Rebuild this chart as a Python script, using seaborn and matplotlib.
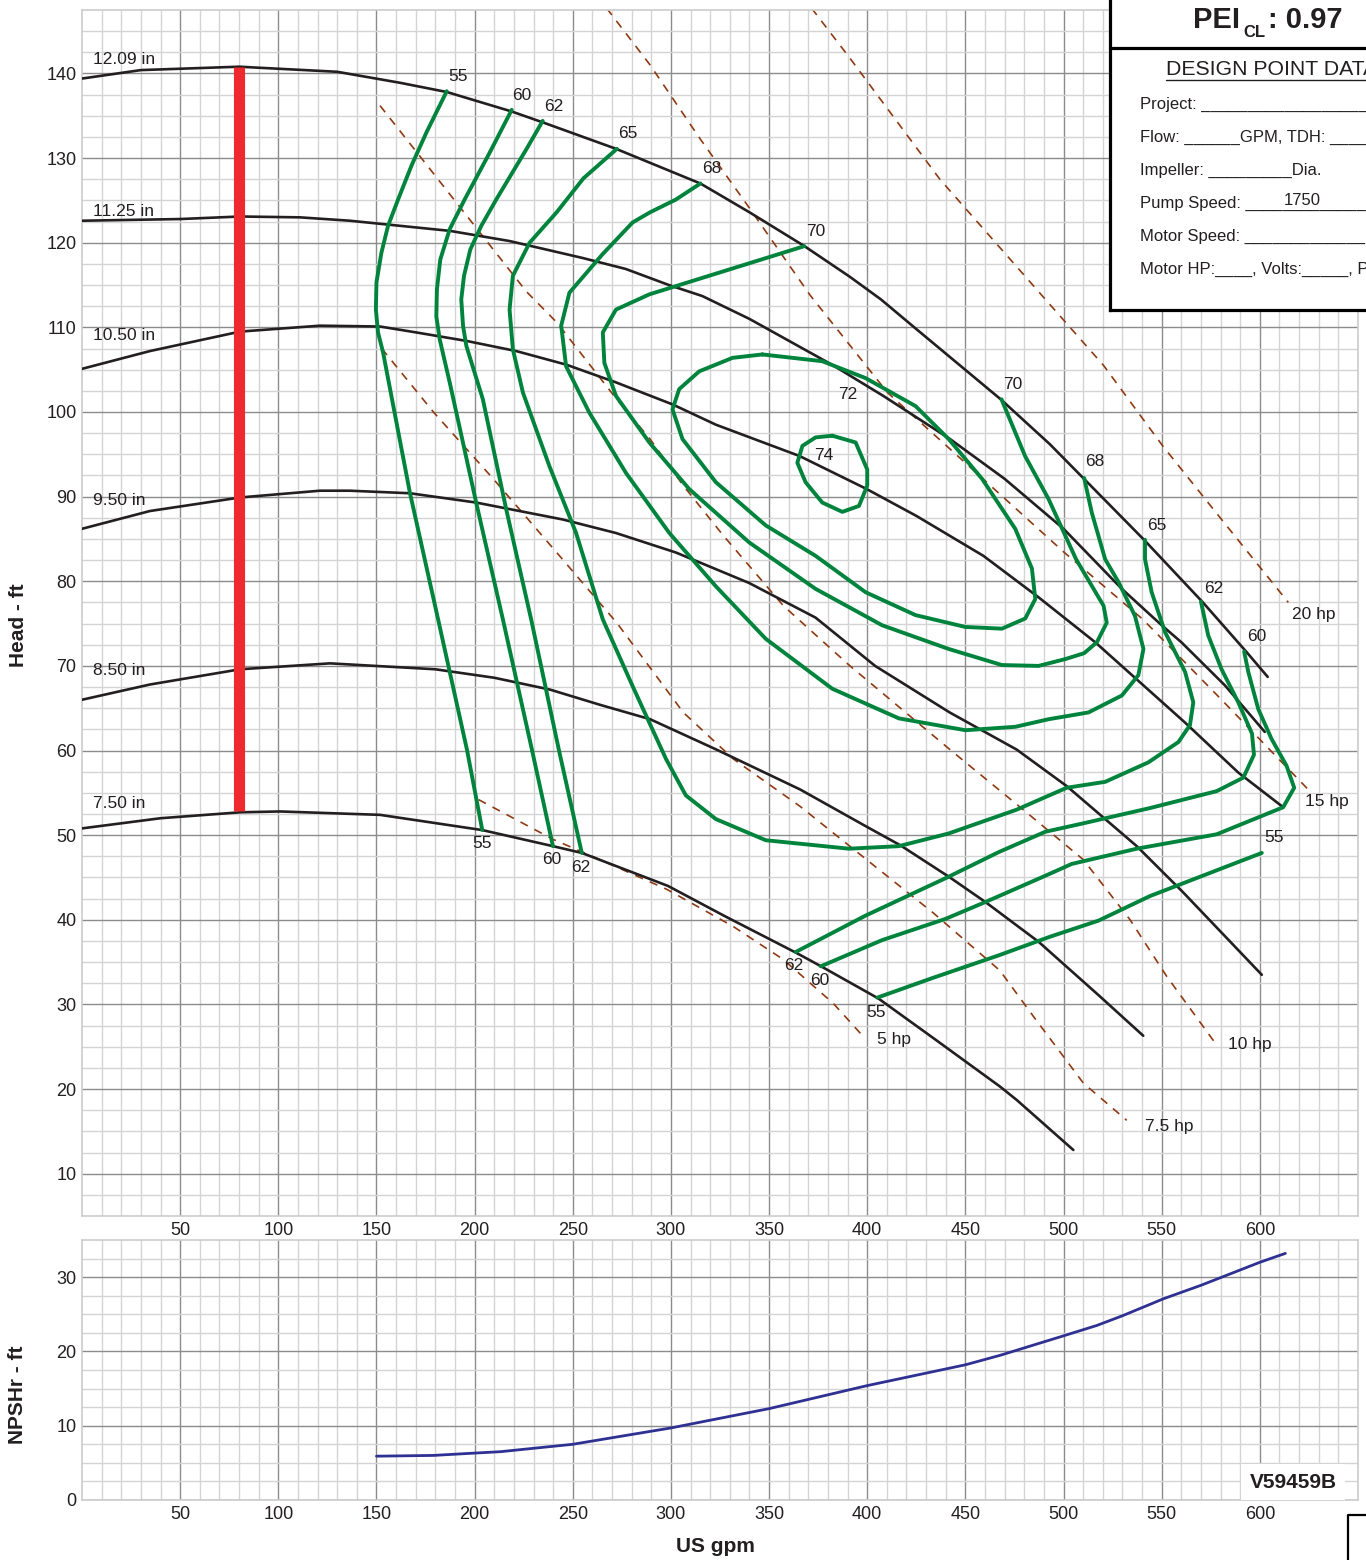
import numpy as np
import matplotlib
matplotlib.use('Agg')
import matplotlib.pyplot as plt
from matplotlib.lines import Line2D
import seaborn as sns

# impeller diameter curves (US gpm, head ft)
d1209_q = [0, 30, 80, 130, 162, 186, 219, 235, 272, 315, 340, 368, 391, 407, 425, 468, 493, 510, 541, 571, 593, 604]
d1209_h = [139.4, 140.4, 140.8, 140.2, 138.9, 137.8, 135.5, 134.2, 131.1, 127.0, 123.6, 119.6, 116.0, 113.3, 109.8, 101.5, 96.2, 92.2, 84.9, 77.5, 71.7, 68.7]
d1125_q = [0, 50, 80.5, 111, 136.5, 162, 187.5, 217.8, 255, 277, 299, 316, 340, 382.7, 408.2, 442.2, 470, 500, 529.7, 550, 560, 582.2, 602.5]
d1125_h = [122.6, 122.8, 123.1, 123.0, 122.6, 122.0, 121.4, 120.2, 118.2, 116.9, 115, 113.7, 111, 105.5, 101.9, 96.8, 92.1, 86.2, 79.1, 74.8, 72.8, 67.7, 62.2]
d1050_q = [0, 34.6, 80.5, 121.2, 151.8, 170.3, 195.8, 221.2, 246.6, 272, 300.8, 322.9, 365.5, 399.7, 425.2, 459.2, 487.3, 516.1, 561.9, 589, 611.9]
d1050_h = [105.1, 107.2, 109.5, 110.2, 110.1, 109.4, 108.4, 107.2, 105.6, 103.5, 100.9, 98.5, 94.8, 90.9, 87.7, 83, 78.1, 72.8, 63.3, 57.4, 53.3]
d950_q = [0, 34.6, 80.5, 121.2, 136.4, 167, 200.8, 244.9, 272, 302.5, 339.8, 373.7, 404, 442, 476.2, 501.6, 537.3, 561.1, 601]
d950_h = [86.2, 88.3, 89.9, 90.7, 90.7, 90.4, 89.3, 87.3, 85.7, 83.4, 79.8, 75.7, 70, 64.5, 60.1, 55.8, 48.7, 43.2, 33.5]
d850_q = [0, 34.6, 80.5, 126.3, 180, 210, 238.4, 263.9, 289.4, 323.3, 365.8, 399.7, 416.9, 441.5, 460.2, 487.3, 517.8, 540.6]
d850_h = [66, 67.8, 69.6, 70.3, 69.6, 68.6, 67.2, 65.4, 63.7, 60.1, 55.4, 51, 48.8, 45.1, 42.1, 37.4, 31.1, 26.3]
d750_q = [0, 40, 80.5, 100.9, 151.8, 203.9, 239.9, 254.6, 298.5, 327.7, 363.8, 376.5, 405.7, 435, 467.6, 476.2, 505]
d750_h = [50.8, 52, 52.7, 52.8, 52.4, 50.6, 48.7, 47.9, 44, 40.4, 36.1, 34.5, 30.7, 25.8, 20.3, 18.7, 12.8]

diam_labels = [("12.09 in", 141.7), ("11.25 in", 123.7), ("10.50 in", 109.0),
               ("9.50 in", 89.6), ("8.50 in", 69.5), ("7.50 in", 53.7)]

# efficiency contours
e55l_q = [185.8, 175.6, 168, 161, 155.9, 152.5, 150, 149.7, 150.8, 153.4, 167, 181.4, 196.1, 203.9]
e55l_h = [137.9, 133.1, 129.2, 125.1, 122, 118.8, 115.3, 112.1, 109.4, 107, 90.5, 75.5, 60.1, 50.6]
e55r_q = [405.1, 433, 467, 493.1, 517.8, 544, 601]
e55r_h = [30.8, 33.1, 35.8, 38, 39.9, 42.8, 47.9]
e60l_q = [218.9, 207.8, 194.9, 187.3, 182.5, 180.8, 180.5, 182.2, 187.3, 200.8, 214.4, 229.2, 239.9]
e60l_h = [135.7, 130.7, 125.1, 121.6, 118, 114.5, 111.3, 108.6, 103.5, 89.3, 75.5, 60.1, 48.7]
e60r_q = [376.3, 407.6, 439.8, 460.2, 490.7, 504.2, 537.3, 578, 611.9, 617.5, 613.6, 605.9, 599.2, 594.1, 592]
e60r_h = [34.5, 37.6, 40.1, 42.1, 45.2, 46.6, 48.4, 50.1, 53.3, 55.6, 58.2, 61.4, 64.9, 69.3, 71.7]
e62l_q = [234.7, 226.5, 211, 203.4, 197.8, 194.6, 193.2, 194.1, 195.8, 204.2, 216.1, 228.8, 242.9, 254.6]
e62l_h = [134.4, 131.1, 125.1, 122, 119.2, 116.1, 113.3, 110.2, 107.8, 101.5, 88.5, 75.5, 60.1, 47.9]
e62r_q = [363.6, 399.2, 440.7, 467, 490.7, 510.1, 544, 578, 591.6, 597, 596, 589, 580.5, 573.7, 570]
e62r_h = [36.2, 40.5, 45, 48, 50.4, 51.4, 53.2, 55.2, 56.8, 59.5, 62, 65.7, 69.6, 73.6, 77.6]
e65_q = [272.5, 255.4, 241.8, 228, 219.5, 217.8, 219.5, 224.6, 238.1, 251.7, 265.3, 280.5, 297.5, 307.6, 322.9, 348.3,
         390.7, 416.1, 441.5, 476, 501.6, 521.2, 543.2, 558.5, 564.4, 566.1, 561.9, 551.7, 544.9, 541.5, 541.5]
e65_h = [131.1, 127.6, 123.6, 120, 116.1, 112.1, 107.4, 102.3, 93.6, 85.7, 75.5, 67.6, 59, 54.7, 51.9, 49.4,
         48.4, 48.7, 50.2, 53, 55.6, 56.3, 58.6, 61, 63, 65.7, 69.3, 74, 78.7, 82.6, 84.9]
e68_q = [315, 302.5, 289.4, 280.5, 265, 248.3, 244.1, 246.6, 258.5, 277.1, 299.2, 322.9, 348.3, 382.2, 416.1, 450,
         475.4, 492.4, 512.7, 529.7, 538.1, 540.7, 536.4, 528, 521.2, 514.4, 510.5]
e68_h = [127, 125.1, 123.6, 122.4, 118.6, 114.1, 110.2, 105.4, 99.9, 92.8, 85.7, 79.4, 73.2, 67.3, 63.8, 62.4,
         62.8, 63.7, 64.5, 66.5, 68.9, 72, 75.9, 79.9, 82.6, 88.1, 92.2]
e70_q = [368, 289, 272, 265.3, 266.1, 272, 289, 309.3, 339.8, 373.7, 407.6, 441.5, 468.6, 487.3, 500.8, 510.5,
         517, 522, 520.4, 506.4, 492.4, 480.4, 468.4]
e70_h = [119.6, 113.9, 112.1, 109.4, 105.8, 101.9, 96.4, 90.9, 84.6, 79.1, 74.8, 72, 70.1, 70, 70.8, 71.5,
         72.8, 75.1, 77.1, 82.6, 89.7, 94.8, 101.5]
e72_q = [346.6, 377.1, 399.2, 424.6, 441.5, 458.5, 475.4, 483.9, 485.6, 480.5, 468.6, 450, 424.6, 399.2, 373.7,
         348.3, 322.9, 305.9, 300.8, 304.2, 314.4, 331.4, 346.6]
e72_h = [106.8, 106, 104, 100.7, 96.8, 92.1, 86.2, 81.5, 77.9, 75.6, 74.4, 74.6, 76, 78.7, 83,
         86.6, 91.7, 96.8, 100.3, 102.7, 104.8, 106.4, 106.8]
e74_q = [382.2, 394.1, 400, 400, 395.8, 387.3, 377.1, 368.6, 364.4, 367, 373.7, 382.2]
e74_h = [97.2, 96.4, 93.2, 91.3, 88.9, 88.2, 89.3, 91.7, 94, 96, 97, 97.2]

eff_labels = [("55", 191.5, 139.6), ("60", 224.1, 137.4), ("62", 240.4, 136.1), ("65", 278.1, 132.9),
              ("68", 320.9, 128.8), ("70", 373.9, 121.3), ("72", 390.2, 102.1), ("74", 378, 94.9),
              ("70", 474.3, 103.2), ("68", 516, 94.1), ("65", 547.6, 86.6), ("62", 576.7, 79.2),
              ("60", 598.6, 73.5), ("55", 203.8, 49.0), ("60", 239.4, 47.1), ("62", 254.2, 46.2),
              ("62", 362.7, 34.6), ("60", 376, 32.8), ("55", 404.5, 29.1), ("55", 607.2, 49.7)]

# power lines (hp)
p5_q = [202, 240, 263.9, 297.9, 331.8, 357.3, 382.8, 398]
p5_h = [54.2, 49.5, 47.1, 43.6, 39.2, 35.3, 30.1, 26.2]
p75_q = [152.7, 179, 209.5, 241.8, 272.4, 306.3, 331.8, 365.8, 399.7, 433.7, 467.6, 484.6, 510.1, 532.2]
p75_h = [107.5, 100, 92.1, 83.4, 75.1, 64.5, 59, 53.4, 47.1, 40.8, 34, 28.6, 20.7, 16.3]
p10_q = [151.8, 170.5, 207.8, 226.5, 241.8, 272.4, 289.4, 306.3, 326.7, 357.3, 391.2, 442.2, 479.5, 510.1, 533.9, 552.6, 578]
p10_h = [136.2, 130.7, 119.7, 114.2, 110.6, 101.5, 96.8, 91.3, 85.4, 77.1, 70, 60.1, 53, 47.1, 40, 33.3, 25.2]
p15_q = [267.3, 289.4, 314.8, 340.3, 370.9, 410.3, 440.4, 470.4, 500.4, 540.4, 580.5, 624.6]
p15_h = [147.7, 141, 132.3, 124, 113.8, 102.3, 96, 89.7, 83.4, 75.5, 66, 55.4]
p20_q = [371.7, 391.2, 437, 490.4, 520.4, 550.5, 580.5, 614.5]
p20_h = [147.7, 141.8, 127.5, 113.4, 105.5, 96, 87.3, 77.5]
hp_labels = [("5 hp", 405, 25.9), ("7.5 hp", 541.5, 15.6), ("10 hp", 583.8, 25.3),
             ("15 hp", 623, 54.0), ("20 hp", 616.4, 76.1)]

# min flow marker
minflow_q = [80, 80]
minflow_h = [52.8, 140.8]

# NPSHr
npsh_q = [150, 179, 199, 213, 250, 300, 350, 400, 450, 468, 500, 517, 530, 551, 570, 600, 613]
npsh_h = [5.9, 6.0, 6.3, 6.5, 7.5, 9.7, 12.3, 15.4, 18.2, 19.5, 22.1, 23.5, 24.8, 27.1, 28.9, 32, 33.2]

GREEN = '#00843d'
BLACK = '#231f20'
BROWN = '#8f3a12'
TXT = '#231f20'

sns.set_theme(style='white')
plt.rcParams['font.family'] = ['Liberation Sans', 'DejaVu Sans']

W, H = 1366, 1560
fig = plt.figure(figsize=(W / 100, H / 100), dpi=100)
ax = fig.add_axes([82 / W, 1 - 1216 / H, 1276 / W, 1206 / H])
ax2 = fig.add_axes([82 / W, 1 - 1500 / H, 1276 / W, 260 / H])


def grid_style(a, ymin, ymax, yticks):
    a.set_xlim(0, 650)
    a.set_ylim(ymin, ymax)
    a.set_xticks(range(50, 650, 50))
    a.set_xticks(np.arange(10, 650, 10), minor=True)
    a.set_yticks(yticks)
    a.set_yticks(np.arange(ymin + 2.5, ymax, 2.5), minor=True)
    a.grid(which='major', color='#8c8c8c', lw=1.0)
    a.grid(which='minor', color='#d4d4d4', lw=1.0)
    a.set_axisbelow(True)
    a.tick_params(which='both', length=0, labelsize=13, colors=TXT, pad=4)
    a.set_xlabel('')
    a.set_ylabel('')
    for s in a.spines.values():
        s.set_color('#cccccc')
        s.set_linewidth(1.2)


def curve(a, q, h, **kw):
    sns.lineplot(x=q, y=h, ax=a, sort=False, estimator=None, legend=False, **kw)


# power lines
for q, h in [(p5_q, p5_h), (p75_q, p75_h), (p10_q, p10_h), (p15_q, p15_h), (p20_q, p20_h)]:
    curve(ax, q, h, color=BROWN, lw=1.2, linestyle=(0, (5, 4.5)), zorder=2)

# impeller curves
for q, h in [(d1209_q, d1209_h), (d1125_q, d1125_h), (d1050_q, d1050_h),
             (d950_q, d950_h), (d850_q, d850_h), (d750_q, d750_h)]:
    curve(ax, q, h, color=BLACK, lw=1.9, zorder=3, solid_joinstyle='round')

# efficiency
for q, h in [(e55l_q, e55l_h), (e55r_q, e55r_h), (e60l_q, e60l_h), (e60r_q, e60r_h),
             (e62l_q, e62l_h), (e62r_q, e62r_h), (e65_q, e65_h), (e68_q, e68_h),
             (e70_q, e70_h), (e72_q, e72_h), (e74_q, e74_h)]:
    curve(ax, q, h, color=GREEN, lw=2.8, zorder=4, solid_joinstyle='round')

curve(ax, minflow_q, minflow_h, color='#ee2a2f', lw=8, zorder=5, solid_capstyle='butt')

grid_style(ax, 5, 147.5, range(10, 150, 10))

for t, y in diam_labels:
    ax.text(5.6, y, t, fontsize=12.5, color=TXT, ha='left', va='center', zorder=6)
for t, x, y in eff_labels:
    ax.text(x, y, t, fontsize=12.5, color=TXT, ha='center', va='center', zorder=6)
for t, x, y in hp_labels:
    ax.text(x, y, t, fontsize=12.5, color=TXT, ha='left', va='center', zorder=6, clip_on=False)

# NPSH panel
curve(ax2, npsh_q, npsh_h, color='#2e3192', lw=2.0, zorder=3, solid_joinstyle='round')
grid_style(ax2, 0, 35, [0, 10, 20, 30])
ax2.text(617, 2.4, 'V59459B', fontsize=15, fontweight='bold', color=TXT, ha='center', va='center',
         bbox=dict(facecolor='white', edgecolor='none', pad=6), zorder=6)

# axis titles
fig.text(18 / W, 1 - 625 / H, 'Head - ft', rotation=90, fontsize=15, fontweight='bold',
         color=TXT, ha='center', va='center')
fig.text(18 / W, 1 - 1395 / H, 'NPSHr - ft', rotation=90, fontsize=15, fontweight='bold',
         color=TXT, ha='center', va='center')
fig.text(715 / W, 1 - 1547 / H, 'US gpm', fontsize=15, fontweight='bold', color=TXT,
         ha='center', va='center')

# design point box
box = fig.add_axes([1110 / W, 1 - 310 / H, 300 / W, 340 / H])
box.set_facecolor('white')
box.set_xticks([])
box.set_yticks([])
for s in box.spines.values():
    s.set_color('black')
    s.set_linewidth(2.3)
fig.add_artist(Line2D([1110 / W, 1], [1 - 48 / H] * 2, color='black', lw=2.3))


def ftext(x, y, s, **kw):
    fig.text(x / W, 1 - y / H, s, color=TXT, va='baseline', ha='left', **kw)


ftext(1193, 28, 'PEI', fontsize=21, fontweight='bold')
ftext(1243, 37, 'CL', fontsize=12, fontweight='bold')
ftext(1268, 28, ': 0.97', fontsize=21, fontweight='bold')
ftext(1166, 75, 'DESIGN POINT DATA', fontsize=15.3)
fig.add_artist(Line2D([1166 / W, 1], [1 - 79.5 / H] * 2, color=TXT, lw=1.0))
ftext(1140, 109, 'Project: __________________', fontsize=12)
ftext(1140, 142, 'Flow: ______GPM, TDH: _____', fontsize=12)
ftext(1140, 175, 'Impeller: _________Dia.', fontsize=12)
ftext(1140, 208, 'Pump Speed: _____________RPM', fontsize=12)
ftext(1284, 205, '1750', fontsize=12)
ftext(1140, 241, 'Motor Speed: _____________RPM', fontsize=12)
ftext(1140, 274, 'Motor HP:____, Volts:_____, Ph', fontsize=12)

# corner box at lower right
fig.add_artist(Line2D([1348 / W, 1348 / W, 1], [0, 1 - 1515 / H, 1 - 1515 / H], color='black', lw=1.6))

fig.savefig('out.png', dpi=100)
